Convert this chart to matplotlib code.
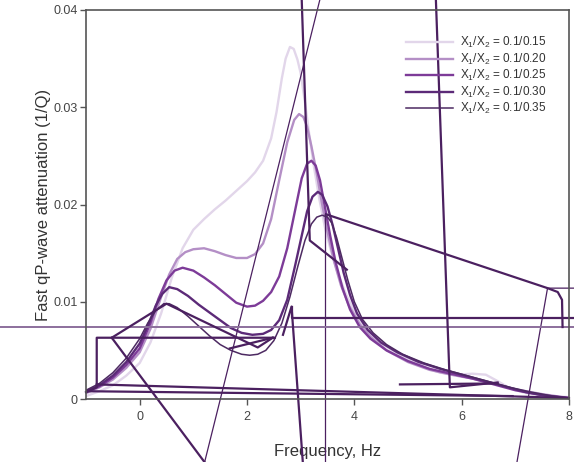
import numpy as np
import matplotlib
matplotlib.use("Agg")
import matplotlib.pyplot as plt

plt.rcParams['font.family'] = ['Liberation Sans', 'DejaVu Sans']
plt.rcParams['mathtext.fontset'] = 'custom'
plt.rcParams['mathtext.rm'] = 'Liberation Sans'

# attenuation curves (frequency in Hz, 1/Q)
x_015 = [-1, -0.75, -0.5, -0.25, 0, 0.2, 0.4, 0.6, 0.8, 1.0, 1.2, 1.4, 1.6, 1.8, 2.0, 2.15, 2.3,
         2.45, 2.55, 2.65, 2.72, 2.8, 2.87, 2.94, 3.0, 3.08, 3.16, 3.25, 3.35, 3.45, 3.55, 3.7,
         3.85, 4.0, 4.2, 4.4, 4.7, 5.0, 5.3, 5.6, 5.9, 6.2, 6.45, 6.65, 6.9, 7.2, 7.6, 8]
y_015 = [0.0003, 0.0008, 0.0014, 0.0024, 0.0037, 0.0058, 0.0088, 0.0125, 0.0155, 0.0174, 0.0185,
         0.0195, 0.0204, 0.0214, 0.0224, 0.0233, 0.0245, 0.0268, 0.0295, 0.033, 0.035, 0.0362,
         0.036, 0.0349, 0.0335, 0.0305, 0.0272, 0.0238, 0.0205, 0.0177, 0.0155, 0.0128, 0.0107,
         0.009, 0.0073, 0.0061, 0.005, 0.0041, 0.0033, 0.0027, 0.0025, 0.0026, 0.0025, 0.0019,
         0.0011, 0.0006, 0.0003, 0.0002]

x_020 = [-1, -0.75, -0.5, -0.25, 0, 0.2, 0.4, 0.55, 0.7, 0.85, 1.0, 1.2, 1.4, 1.6, 1.8, 2.0,
         2.15, 2.3, 2.45, 2.6, 2.75, 2.88, 2.97, 3.05, 3.12, 3.2, 3.3, 3.4, 3.5, 3.62, 3.75, 3.9,
         4.1, 4.3, 4.6, 5.0, 5.4, 5.8, 6.2, 6.6, 7.0, 7.5, 8]
y_020 = [0.0006, 0.0012, 0.002, 0.0032, 0.0048, 0.0072, 0.0105, 0.0128, 0.0144, 0.0151, 0.0154,
         0.0155, 0.0152, 0.0148, 0.0145, 0.0145, 0.0149, 0.016, 0.0185, 0.0225, 0.0264, 0.0287,
         0.0293, 0.029, 0.028, 0.026, 0.0232, 0.02, 0.0172, 0.0142, 0.0117, 0.0096, 0.0077,
         0.0064, 0.005, 0.0038, 0.003, 0.0025, 0.0021, 0.0016, 0.001, 0.0005, 0.0001]

x_025 = [-1, -0.75, -0.5, -0.25, 0, 0.2, 0.35, 0.5, 0.65, 0.8, 1.0, 1.2, 1.4, 1.6, 1.8, 2.0,
         2.15, 2.3, 2.45, 2.6, 2.75, 2.9, 3.02, 3.12, 3.2, 3.28, 3.36, 3.45, 3.55, 3.65, 3.78,
         3.92, 4.1, 4.3, 4.6, 5.0, 5.4, 5.8, 6.2, 6.6, 7.0, 7.5, 8]
y_025 = [0.0007, 0.0013, 0.0022, 0.0035, 0.0052, 0.0078, 0.0103, 0.0122, 0.0132, 0.0135, 0.0132,
         0.0125, 0.0117, 0.0108, 0.0099, 0.0095, 0.0096, 0.0101, 0.011, 0.0126, 0.0155, 0.0195,
         0.0227, 0.0242, 0.0245, 0.024, 0.0225, 0.0198, 0.0168, 0.0141, 0.0114, 0.0092, 0.0074,
         0.0062, 0.005, 0.0039, 0.0031, 0.0026, 0.0021, 0.0015, 0.0009, 0.0004, 0.0001]

x_030 = [-1, -0.75, -0.5, -0.25, 0, 0.15, 0.3, 0.42, 0.55, 0.7, 0.9, 1.1, 1.3, 1.5, 1.7, 1.9,
         2.1, 2.3, 2.45, 2.6, 2.75, 2.9, 3.02, 3.12, 3.22, 3.32, 3.4, 3.5, 3.6, 3.7, 3.8, 3.92,
         4.05, 4.25, 4.5, 4.8, 5.2, 5.6, 6.0, 6.4, 6.8, 7.2, 7.6, 8]
y_030 = [0.0008, 0.0014, 0.0024, 0.0038, 0.0057, 0.0075, 0.0096, 0.0108, 0.0115, 0.0113, 0.0106,
         0.0097, 0.0089, 0.0081, 0.0073, 0.0068, 0.0066, 0.0067, 0.0071, 0.0081, 0.0102, 0.0138,
         0.0168, 0.0193, 0.0208, 0.0213, 0.021, 0.0198, 0.0178, 0.0154, 0.013, 0.0107, 0.0088,
         0.0071, 0.0058, 0.0048, 0.0038, 0.0031, 0.0025, 0.0019, 0.0013, 0.0007, 0.0003, 0.0001]

x_035 = [-1, -0.75, -0.5, -0.25, 0, 0.15, 0.3, 0.45, 0.55, 0.7, 0.9, 1.1, 1.3, 1.5, 1.7, 1.9,
         2.05, 2.2, 2.35, 2.5, 2.65, 2.8, 2.95, 3.08, 3.2, 3.3, 3.4, 3.5, 3.58, 3.67, 3.77, 3.88,
         4.0, 4.15, 4.35, 4.6, 4.9, 5.3, 5.7, 6.1, 6.5, 6.9, 7.3, 7.7, 8]
y_035 = [0.0009, 0.0016, 0.0027, 0.0042, 0.0062, 0.0078, 0.0091, 0.0098, 0.0098, 0.0094, 0.0085,
         0.0075, 0.0065, 0.0056, 0.005, 0.0046, 0.0045, 0.0046, 0.005, 0.006, 0.0078, 0.0105,
         0.0137, 0.0163, 0.018, 0.0187, 0.0189, 0.0187, 0.0181, 0.0166, 0.0145, 0.0122, 0.01,
         0.0082, 0.0068, 0.0056, 0.0046, 0.0037, 0.003, 0.0024, 0.0018, 0.0012, 0.0007, 0.0003,
         0.0001]

labels = ['X$_\\mathregular{1}$/X$_\\mathregular{2}$ = 0.1/0.15',
          'X$_\\mathregular{1}$/X$_\\mathregular{2}$ = 0.1/0.20',
          'X$_\\mathregular{1}$/X$_\\mathregular{2}$ = 0.1/0.25',
          'X$_\\mathregular{1}$/X$_\\mathregular{2}$ = 0.1/0.30',
          'X$_\\mathregular{1}$/X$_\\mathregular{2}$ = 0.1/0.35']
colors = ['#e2d6ea', '#b48fc6', '#7d3b98', '#5c2a78', '#4d2a62']
widths = [1.7, 1.7, 1.7, 1.7, 1.1]

# stray segments of the unsorted series (drawn unclipped, as in the original)
stray_thin = [
    ([1.21, 3.355], [-0.0065, 0.041]),
    ([7.03, 7.6, 8.09], [-0.0065, 0.0114, 0.0114]),
    ([3.45, 3.45], [0.0189, -0.0065]),
]
stray_muted = [([-2.61, 8.09], [0.0074, 0.0074])]
stray_thick = [
    ([-1.0, -0.8, -0.8, 2.52], [0.0007, 0.0012, 0.0063, 0.0063]),
    ([-0.52, 1.21], [0.0063, -0.0065]),
    ([-0.52, 0.5, 2.2, 2.48], [0.0063, 0.0098, 0.0053, 0.0063]),
    ([1.68, 2.48], [0.0052, 0.0063]),
    ([2.67, 2.83, 3.04], [0.0066, 0.0095, -0.0065]),
    ([2.83, 2.83, 8.09], [0.0095, 0.0083, 0.0083]),
    ([-0.8, 8.0], [0.0015, 0.0001]),
    ([-0.97, 6.95], [0.0008, 0.0003]),
    ([3.02, 3.17, 3.86], [0.041, 0.0163, 0.0133]),
    ([3.47, 7.6, 7.79, 7.87, 7.88], [0.019, 0.0114, 0.011, 0.0102, 0.0074]),
    ([5.52, 5.78, 6.67], [0.041, 0.0012, 0.0017]),
    ([4.85, 6.67], [0.0015, 0.0016]),
]

fig = plt.figure(figsize=(5.74, 4.62), dpi=100)
ax = fig.add_axes([86 / 574, 1 - 399 / 462, (569 - 86) / 574, (399 - 10) / 462])

xs = [x_015, x_020, x_025, x_030, x_035]
ys = [y_015, y_020, y_025, y_030, y_035]
for x, y, c, lw, lab in zip(xs, ys, colors, widths, labels):
    ax.plot(x, y, color=c, lw=lw, label=lab, solid_joinstyle='round')

for x, y in stray_thin:
    ax.plot(x, y, color='#4b2060', lw=0.9, clip_on=False)
for x, y in stray_muted:
    ax.plot(x, y, color='#8c6f9c', lw=1.4, clip_on=False)
for x, y in stray_thick:
    ax.plot(x, y, color='#4b2060', lw=1.6, clip_on=False)

ax.set_xlim(-1, 8)
ax.set_ylim(0, 0.04)
ax.set_xticks([0, 2, 4, 6, 8])
ax.set_xticklabels(['0', '2', '4', '6', '8'])
ax.set_yticks([0, 0.01, 0.02, 0.03, 0.04])
ax.set_yticklabels(['0', '0.01', '0.02', '0.03', '0.04'])
ax.tick_params(direction='out', length=4, width=1, color='#555555',
               labelsize=9, labelcolor='#444444')
ax.tick_params(axis='x', pad=5)
ax.tick_params(axis='y', pad=2)
for s in ax.spines.values():
    s.set_color('#555555')
    s.set_linewidth(1.2)

ax.set_xlabel('Frequency, Hz', fontsize=12, color='#333333', labelpad=15)
ax.set_ylabel('Fast qP-wave attenuation (1/Q)', fontsize=12, color='#333333', labelpad=2)

ax.legend(loc='upper left', bbox_to_anchor=(0.6625, 0.935), frameon=False, fontsize=8.5,
          handlelength=4.0, handletextpad=0.6, labelspacing=0.12, borderpad=0,
          borderaxespad=0, labelcolor='#333333')

fig.savefig('out.png', dpi=100)
